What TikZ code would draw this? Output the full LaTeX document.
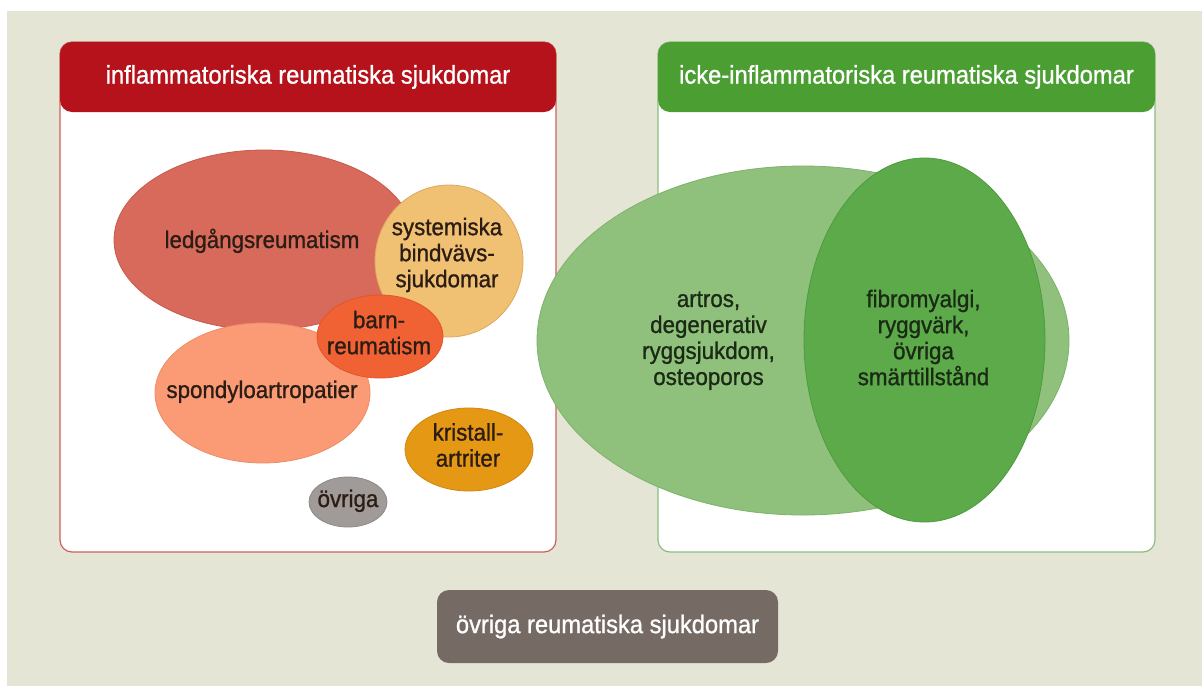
\documentclass[tikz,border=0pt]{standalone}
\usepackage{fontspec}
\setmainfont{Liberation Sans}[FakeStretch=0.93,FakeBold=1]
\usetikzlibrary{shapes.geometric}
\definecolor{bgc}{HTML}{E4E5D5}
\definecolor{redhead}{HTML}{B6121C}
\definecolor{redline}{HTML}{C8625C}
\definecolor{greenhead}{HTML}{4A9E32}
\definecolor{greenline}{HTML}{8CBC82}
\definecolor{ledc}{HTML}{D76A5B}
\definecolor{ledd}{HTML}{C85A4C}
\definecolor{sysc}{HTML}{F0C073}
\definecolor{sysd}{HTML}{DDA860}
\definecolor{barnc}{HTML}{F06234}
\definecolor{barnd}{HTML}{E0552A}
\definecolor{spoc}{HTML}{FA9B76}
\definecolor{spod}{HTML}{EE8C68}
\definecolor{kric}{HTML}{E49814}
\definecolor{krid}{HTML}{D08810}
\definecolor{ovrc}{HTML}{A09A98}
\definecolor{ovrd}{HTML}{8E8886}
\definecolor{lgreen}{HTML}{8FC17C}
\definecolor{lgreend}{HTML}{7DB26C}
\definecolor{dgreen}{HTML}{5CAA4A}
\definecolor{dgreend}{HTML}{4E9A3E}
\definecolor{bottomc}{HTML}{766A65}
\definecolor{txtred}{HTML}{2B1D14}
\definecolor{txtgreen}{HTML}{1A2A14}
\tikzset{
  panel/.style={fill=white, rounded corners=12pt, line width=1.2pt, anchor=north west, inner sep=0, outer sep=0},
  headbar/.style={rounded corners=12pt, anchor=north west, inner sep=0, outer sep=0, text=white, font=\fontsize{25.5}{30}\selectfont},
  blob/.style={ellipse, inner sep=0, outer sep=0, line width=0.8pt},
  lbl/.style={font=\fontsize{24}{26}\selectfont, align=center, inner sep=0, outer sep=0},
}
\begin{document}
\begin{tikzpicture}[x=1pt,y=-1pt]
\useasboundingbox (0,0) rectangle (1202,686);
\fill[white] (0,0) rectangle (1202,686);
\fill[bgc] (7,11) rectangle (1202,686);

% panels
\node[panel, draw=redline, minimum width=496pt, minimum height=510pt] (lbox) at (60,42) {};
\node[panel, draw=greenline, minimum width=497pt, minimum height=510pt] (rbox) at (658,42) {};
\node[headbar, fill=redhead, minimum width=496pt, minimum height=70pt] (lhead) at (60,42) {inflammatoriska reumatiska sjukdomar};
\node[headbar, fill=greenhead, minimum width=497pt, minimum height=70pt] (rhead) at (658,42) {icke-inflammatoriska reumatiska sjukdomar};

% inflammatory blobs
\node[blob, fill=ledc, draw=ledd, minimum width=300pt, minimum height=180pt] (led) at (264,240) {};
\node[blob, fill=sysc, draw=sysd, minimum width=148pt, minimum height=152pt] (sys) at (449,261) {};
\node[blob, fill=spoc, draw=spod, minimum width=215pt, minimum height=140pt] (spo) at (262.5,393) {};
\node[blob, fill=barnc, draw=barnd, minimum width=126pt, minimum height=83pt] (barn) at (380,336.5) {};
\node[blob, fill=kric, draw=krid, minimum width=128pt, minimum height=83pt] (kri) at (469,449.5) {};
\node[blob, fill=ovrc, draw=ovrd, minimum width=78pt, minimum height=50pt] (ovr) at (348,502) {};

\node[lbl, text=txtred, anchor=base] (ledt) at (262,248) {ledgångsreumatism};
\node[lbl, text=txtred] (syst) at (447,255) {systemiska\\bindvävs-\\sjukdomar};
\node[lbl, text=txtred] (barnt) at (379,332.6) {barn-\\reumatism};
\node[lbl, text=txtred, anchor=base] (spot) at (262,398) {spondyloartropatier};
\node[lbl, text=txtred] (krit) at (468,445) {kristall-\\artriter};
\node[lbl, text=txtred, anchor=base] (ovrt) at (348,507) {övriga};

% non-inflammatory blobs
\node[blob, fill=lgreen, draw=lgreend, minimum width=532pt, minimum height=349pt] (art) at (803,340.5) {};
\node[blob, fill=dgreen, draw=dgreend, minimum width=241pt, minimum height=364pt] (fib) at (924.5,340) {};
\node[lbl, text=txtgreen] (artt) at (708.5,340.7) {artros,\\degenerativ\\ryggsjukdom,\\osteoporos};
\node[lbl, text=txtgreen] (fibt) at (923.5,337.6) {fibromyalgi,\\ryggvärk,\\övriga\\smärttillstånd};

% bottom box
\node[rounded corners=12pt, fill=bottomc, text=white, inner sep=0, outer sep=0, minimum width=341pt, minimum height=73pt, font=\fontsize{25.5}{30}\selectfont] (ovrbox) at (607.5,626.5) {övriga reumatiska sjukdomar};
\end{tikzpicture}
\end{document}
